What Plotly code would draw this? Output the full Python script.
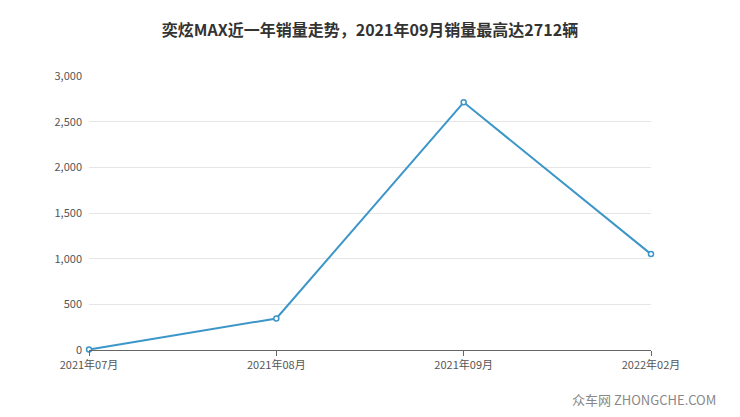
import plotly.graph_objects as go

months = ["2021年07月", "2021年08月", "2021年09月", "2022年02月"]
sales = [5, 345, 2712, 1050]
y_ticks = [0, 500, 1000, 1500, 2000, 2500, 3000]

fig = go.Figure(go.Scatter(
    x=months, y=sales, mode="lines+markers",
    line=dict(color="#3d96c8", width=2),
    marker=dict(size=5, color="white", line=dict(color="#3d96c8", width=1.5)),
    cliponaxis=False,
))

fig.update_layout(
    width=740, height=417,
    margin=dict(l=81, r=97, t=68, b=75),
    paper_bgcolor="white", plot_bgcolor="white",
    font=dict(family="Noto Sans CJK SC, sans-serif", size=11, color="#555"),
    title=dict(text="<b>奕炫MAX近一年销量走势，2021年09月销量最高达2712辆</b>",
               x=0.5, xref="paper", y=0.96, xanchor="center", font=dict(size=16, color="#333")),
    showlegend=False,
)
fig.update_xaxes(type="category", range=[0, 3], showgrid=False,
                 showline=True, linecolor="#666", ticks="outside",
                 tickcolor="#666", ticklen=5)
fig.update_yaxes(range=[0, 3000], tickvals=y_ticks, tickformat=",",
                 gridcolor="#e6e6e6", zeroline=False, showline=False,
                 ticklabelstandoff=6)

fig.add_annotation(text="众车网 ZHONGCHE.COM", xref="paper", yref="paper",
                   x=1.12, y=-0.14, xanchor="right", yanchor="top", showarrow=False,
                   font=dict(size=13, color="#888"))

fig.write_html("out.html")
